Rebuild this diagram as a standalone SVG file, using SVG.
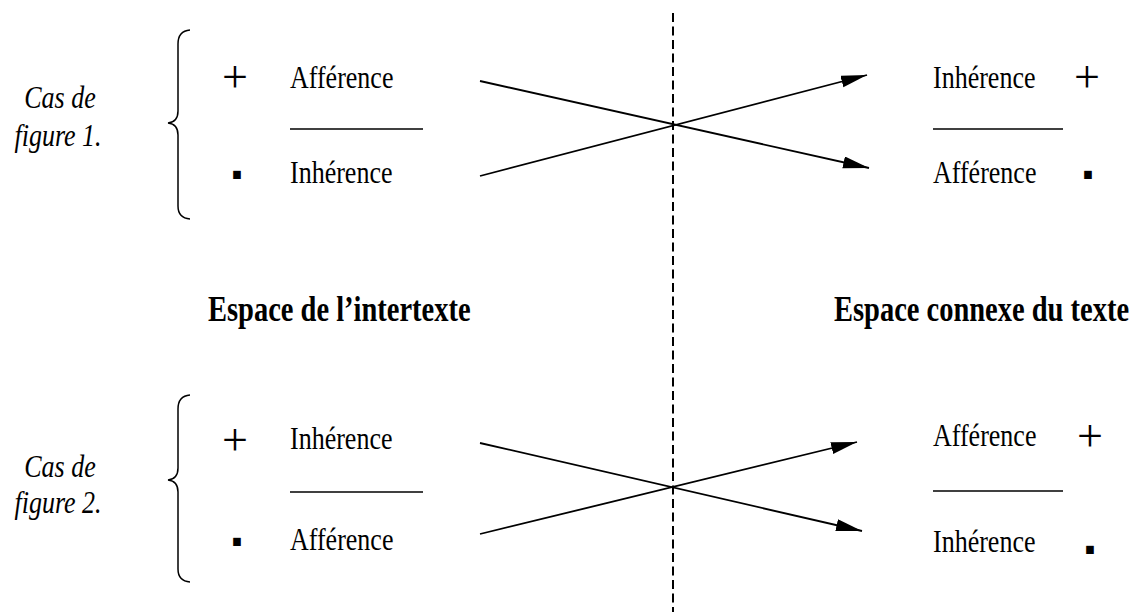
<svg xmlns="http://www.w3.org/2000/svg" width="1135" height="612" viewBox="0 0 1135 612">
<defs>
<marker id="ah" markerUnits="userSpaceOnUse" markerWidth="28" markerHeight="14" refX="26" refY="6" orient="auto">
<path d="M0,0 L26,6 L0,12 z" fill="#000"/>
</marker>
<style>
.t{font-family:"Liberation Serif","Times New Roman",serif;font-size:26px;fill:#000}
.i{font-family:"Liberation Serif","Times New Roman",serif;font-size:26px;font-style:italic;fill:#000;text-anchor:middle}
.b{font-family:"Liberation Serif","Times New Roman",serif;font-size:28.5px;font-weight:bold;fill:#000}
.p{font-family:"Liberation Serif","Times New Roman",serif;font-size:46px;fill:#000;text-anchor:middle}
.m{font-family:"Liberation Sans",Arial,sans-serif;font-size:30px;font-weight:bold;fill:#000;text-anchor:middle}
.ln{stroke:#000;stroke-width:1.6;fill:none}
.br{stroke:#000;stroke-width:1.5;fill:none}
.ar{stroke:#000;stroke-width:1.8;fill:none;marker-end:url(#ah)}
</style>
</defs>
<rect width="1135" height="612" fill="#fff"/>

<g id="divider">
<line x1="673" y1="13" x2="673" y2="612" stroke="#000" stroke-width="2" stroke-dasharray="9,4.5"/>
</g>

<g id="titles">
<text class="b" transform="translate(208,321) scale(1,1.22)">Espace de l’intertexte</text>
<text class="b" transform="translate(834,321) scale(1,1.22)">Espace connexe du texte</text>
</g>

<g id="case1-label">
<text class="i" transform="translate(60,108) scale(1,1.22)">Cas de</text>
<text class="i" transform="translate(58,146) scale(1,1.22)">figure 1.</text>
<path class="br" d="M190,30 Q178,31 178,44 L178,111 Q178,122 168,123 Q178,124 178,135 L178,206 Q178,218 190,219"/>
</g>

<g id="case1-left">
<text class="p" x="235" y="92">+</text>
<text class="t" transform="translate(290,88) scale(1,1.22)">Afférence</text>
<line class="ln" x1="290" y1="129" x2="423" y2="129"/>
<text class="m" transform="translate(237,193) scale(1,2.3)">-</text>
<text class="t" transform="translate(290,183) scale(1,1.22)">Inhérence</text>
</g>

<g id="case1-right">
<text class="t" transform="translate(933,88) scale(1,1.22)">Inhérence</text>
<text class="p" x="1087" y="92">+</text>
<line class="ln" x1="933" y1="129" x2="1063" y2="129"/>
<text class="t" transform="translate(933,183) scale(1,1.22)">Afférence</text>
<text class="m" transform="translate(1088,193) scale(1,2.3)">-</text>
</g>

<g id="case2-label">
<text class="i" transform="translate(60,477) scale(1,1.22)">Cas de</text>
<text class="i" transform="translate(58,513) scale(1,1.22)">figure 2.</text>
<path class="br" d="M190,395 Q178,396 178,409 L178,468 Q178,479 168,480 Q178,481 178,492 L178,569 Q178,581 190,582"/>
</g>

<g id="case2-left">
<text class="p" x="235" y="455">+</text>
<text class="t" transform="translate(290,449) scale(1,1.22)">Inhérence</text>
<line class="ln" x1="290" y1="492" x2="423" y2="492"/>
<text class="m" transform="translate(237,560) scale(1,2.3)">-</text>
<text class="t" transform="translate(290,550) scale(1,1.22)">Afférence</text>
</g>

<g id="case2-right">
<text class="t" transform="translate(933,446) scale(1,1.22)">Afférence</text>
<text class="p" x="1090" y="451">+</text>
<line class="ln" x1="933" y1="491" x2="1063" y2="491"/>
<text class="t" transform="translate(933,552) scale(1,1.22)">Inhérence</text>
<text class="m" transform="translate(1090,568) scale(1,2.3)">-</text>
</g>

<g id="connectors">
<line class="ar" x1="480" y1="81" x2="869" y2="168"/>
<line class="ar" x1="480" y1="176" x2="867" y2="75"/>
<line class="ar" x1="480" y1="443" x2="862" y2="531"/>
<line class="ar" x1="480" y1="534" x2="857" y2="442"/>
</g>
</svg>
